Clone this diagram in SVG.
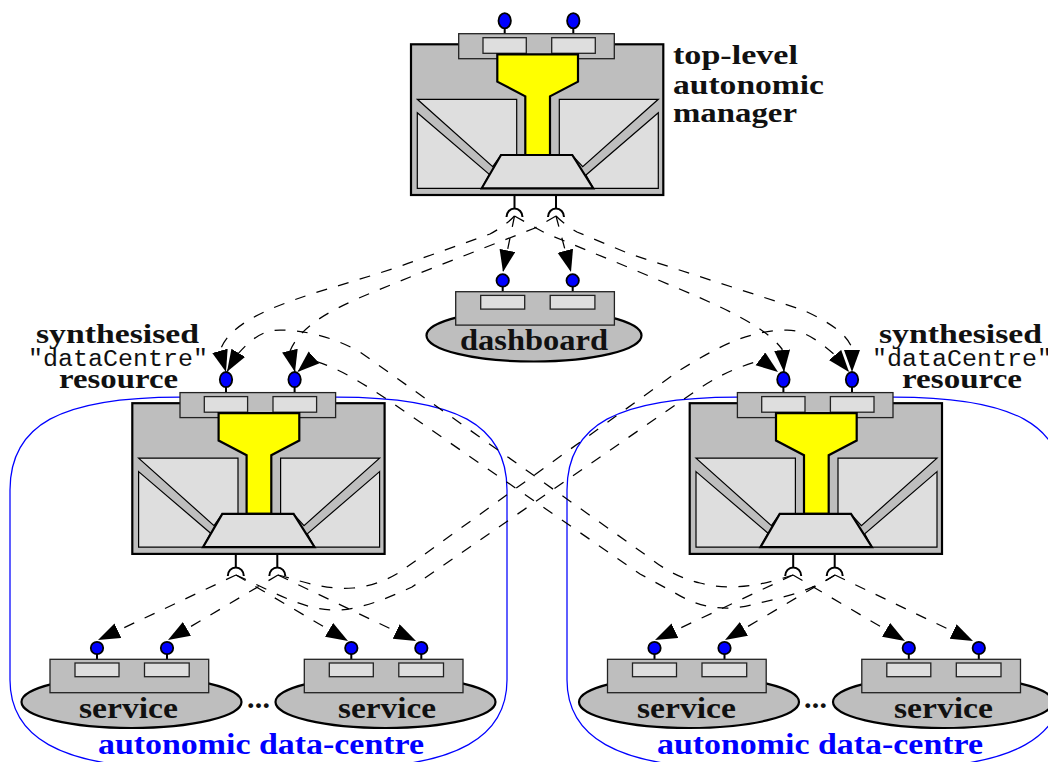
<svg xmlns="http://www.w3.org/2000/svg" xmlns:xlink="http://www.w3.org/1999/xlink" width="1048" height="762" viewBox="0 0 1048 762">
<style>
.bg{fill:#fff}
.outer{fill:#bebebe;stroke:#000;stroke-width:2.2}
.iface{fill:#bebebe;stroke:#222;stroke-width:1.3}
.box{fill:#dedede;stroke:#222;stroke-width:1.3}
.panel{fill:#dedede;stroke:#000;stroke-width:1.2}
.core{fill:#ff0;stroke:#000;stroke-width:2.2;stroke-linejoin:miter}
.trap{fill:#dedede;stroke:#000;stroke-width:2.2}
.dot{fill:#00f;stroke:#000;stroke-width:1.8}
.stem{fill:none;stroke:#000;stroke-width:2}
.ell{fill:#bebebe;stroke:#000;stroke-width:2.2}
.dash{fill:none;stroke:#000;stroke-width:1.25;stroke-dasharray:11 11.5;marker-end:url(#head)}
.blue{fill:none;stroke:#00f;stroke-width:1.25}
.t{font-family:"Liberation Serif",serif;font-weight:700;fill:#111;font-size:29px}
.s{font-size:27px}
.m{font-family:"Liberation Mono",monospace;fill:#111;font-size:23px}
.b{fill:#00f}
</style>
<defs>
<marker id="head" markerUnits="userSpaceOnUse" markerWidth="23" markerHeight="17" refX="22" refY="8" orient="auto" viewBox="0 0 23 17"><path d="M0,0L22,8L0,16z" fill="#000"/></marker>
<g id="manager">
<rect class="outer" x="411" y="44.3" width="252.3" height="150.7"/>
<path class="panel" d="M417.3,99.3H516.7V155H501L492.7,166.7Z"/>
<path class="panel" d="M417.3,112.7L489.3,174.3L481.7,188.3H417.3Z"/>
<path class="panel" d="M658.3,99.3H559.3V155H572L582.7,166.7Z"/>
<path class="panel" d="M658.3,112.7L586,175L593.3,188.3H658.3Z"/>
<path class="stem" d="M504.7,28V38M573.3,28V38"/>
<rect class="iface" x="458.7" y="33.7" width="155.6" height="25"/>
<rect class="box" x="483" y="37.7" width="43.3" height="15.6"/>
<rect class="box" x="551.7" y="37.7" width="43.6" height="15.6"/>
<ellipse class="dot" cx="504.7" cy="20.7" rx="6.2" ry="7.6"/>
<ellipse class="dot" cx="573.3" cy="20.7" rx="6.2" ry="7.6"/>
<path class="core" d="M497.3,54.3H578V81.7L550,96.3V155H525.3V96.3L497.3,81.7Z"/>
<path class="trap" d="M501,155H572.3L593.3,188.3H481.7Z"/>
<path class="stem" d="M514.5,195V208M556,195V208M506.5,217A8,8.5 0 0 1 522.5,217M548,217A8,8.5 0 0 1 564,217"/>
</g>
<g id="port">
<path class="stem" d="M97,654V663M167,654V663"/>
<rect class="iface" x="50" y="659.3" width="158.7" height="33.4"/>
<rect class="box" x="75" y="663" width="44" height="13.7"/>
<rect class="box" x="144.5" y="663" width="44.7" height="13.7"/>
<circle class="dot" cx="97" cy="648" r="6.2"/>
<circle class="dot" cx="167" cy="648" r="6.2"/>
</g>
</defs>
<rect class="bg" width="1048" height="762"/>
<g id="regions">
<path id="region-left" class="blue" d="M10,490C10,425 60,397 180,397H337C457,397 507,425 507,490V680C507,735 460,768 340,768H177C57,768 10,735 10,680Z"/>
<path id="region-right" class="blue" d="M567,490C567,425 617,397 737,397H894C1014,397 1064,425 1064,490V680C1064,735 1017,768 897,768H734C614,768 567,735 567,680Z"/>
</g>
<g id="connectors">
<path class="dash" d="M514.5,216L503,272"/>
<path class="dash" d="M556,216L571,272"/>
<path class="dash" d="M514.5,216Q505,226 490,234L420,259C340,290 235,305 220,351L226,372"/>
<path class="dash" d="M556,216L535,228L420,273C360,298 305,315 290,351L295,372"/>
<path class="dash" d="M514.5,216L545,233L630,268C700,298 760,320 782,349L784,372"/>
<path class="dash" d="M556,216Q565,225 577,232L630,254L803,310C820,318 845,330 852,348L852,372"/>
<path class="dash" d="M793,575C765,584 735,592 700,583C680,578 665,570 650,558L360,352C330,335 300,330 280,330C262,330 250,340 237,355L227,371.7"/>
<path class="dash" d="M835,575C810,592 780,598 755,604C725,612 700,608 675,593L640,574L388,400C365,385 340,368 311,360L297.5,372"/>
<path class="dash" d="M278,575C305,582 325,590 353,588C375,586 390,578 400,572L680,370C710,352 745,330 787,330C805,330 820,342 835,355L849,372"/>
<path class="dash" d="M236,575C270,590 305,612 340,610C365,608 390,597 412,587L700,388C720,375 735,368 762,360L778,372"/>
<path class="dash" d="M236,575L98,640"/>
<path class="dash" d="M278,575L168,640"/>
<path class="dash" d="M236,575L348,641"/>
<path class="dash" d="M278,575L416,641"/>
<path class="dash" d="M793,575L655,640"/>
<path class="dash" d="M835,575L725,640"/>
<path class="dash" d="M793,575L905,641"/>
<path class="dash" d="M835,575L973,641"/>
</g>
<g id="top-manager"><use href="#manager"/></g>
<g id="left-manager"><use href="#manager" transform="translate(-278.7,358.9)"/></g>
<g id="right-manager"><use href="#manager" transform="translate(278.7,358.9)"/></g>
<g id="dashboard">
<ellipse class="ell" cx="534" cy="335.5" rx="107.5" ry="26"/>
<use href="#port" transform="translate(405.7,-367.6)"/>
<text class="t" x="460" y="350" textLength="148" lengthAdjust="spacingAndGlyphs">dashboard</text>
</g>
<g id="service-1">
<ellipse class="ell" cx="131.5" cy="702" rx="110" ry="26"/>
<use href="#port"/>
<text class="t" x="79" y="718" textLength="99" lengthAdjust="spacingAndGlyphs">service</text>
</g>
<g id="service-2">
<ellipse class="ell" cx="385.5" cy="702" rx="110" ry="26"/>
<use href="#port" transform="translate(254.3,0)"/>
<text class="t" x="338" y="718" textLength="98" lengthAdjust="spacingAndGlyphs">service</text>
</g>
<g id="service-3">
<ellipse class="ell" cx="689" cy="702" rx="110" ry="26"/>
<use href="#port" transform="translate(557.5,0)"/>
<text class="t" x="637" y="718" textLength="99" lengthAdjust="spacingAndGlyphs">service</text>
</g>
<g id="service-4">
<ellipse class="ell" cx="943" cy="702" rx="110" ry="26"/>
<use href="#port" transform="translate(811.8,0)"/>
<text class="t" x="894" y="718" textLength="99" lengthAdjust="spacingAndGlyphs">service</text>
</g>
<g id="labels">
<text class="t" x="247" y="708" textLength="23" style="font-size:30px">...</text>
<text class="t" x="804" y="708" textLength="23" style="font-size:30px">...</text>
<text class="t s" x="673" y="64" textLength="125" lengthAdjust="spacingAndGlyphs">top-level</text>
<text class="t s" x="673" y="94" textLength="151" lengthAdjust="spacingAndGlyphs">autonomic</text>
<text class="t s" x="673" y="122" textLength="124" lengthAdjust="spacingAndGlyphs">manager</text>
<text class="t s" x="36" y="343" textLength="163" lengthAdjust="spacingAndGlyphs">synthesised</text>
<text class="m" x="28" y="366" textLength="180" lengthAdjust="spacingAndGlyphs">"dataCentre"</text>
<text class="t s" x="59" y="388" textLength="119" lengthAdjust="spacingAndGlyphs">resource</text>
<text class="t s" x="879" y="343" textLength="163" lengthAdjust="spacingAndGlyphs">synthesised</text>
<text class="m" x="872" y="366" textLength="180" lengthAdjust="spacingAndGlyphs">"dataCentre"</text>
<text class="t s" x="902" y="388" textLength="120" lengthAdjust="spacingAndGlyphs">resource</text>
<text class="t b" x="98" y="754" textLength="326" lengthAdjust="spacingAndGlyphs">autonomic data-centre</text>
<text class="t b" x="657" y="754" textLength="326" lengthAdjust="spacingAndGlyphs">autonomic data-centre</text>
</g>
</svg>
